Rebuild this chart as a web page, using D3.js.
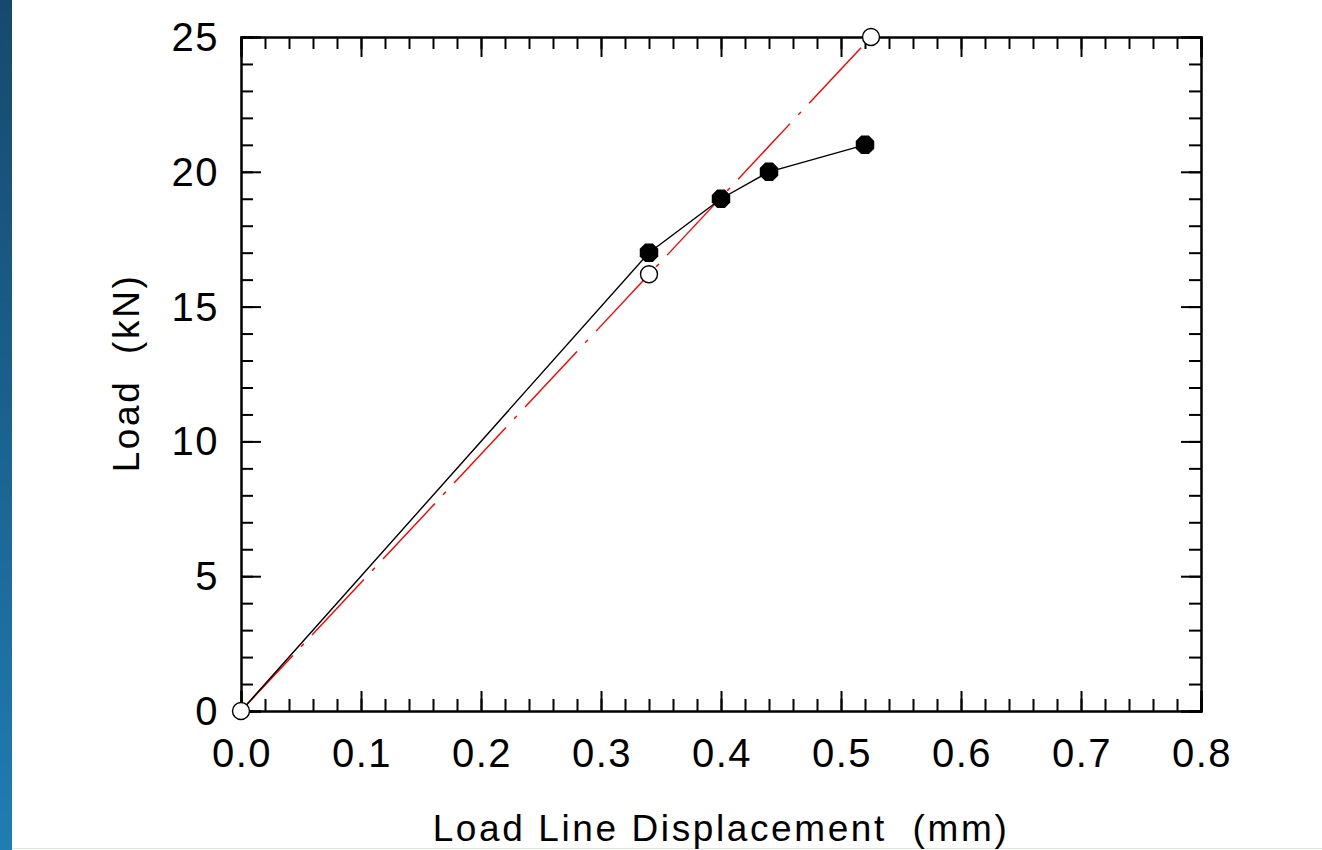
<!DOCTYPE html>
<html>
  <head>
    <meta charset="utf-8">
    <title>Load vs Load Line Displacement</title>
    <script src="https://cdn.jsdelivr.net/npm/d3@7"></script>
    <style>
    html, body {
        margin: 0;
        padding: 0;
        background: #fff;
    }
    svg text {
        font-family: 'Liberation Sans', Arial, sans-serif;
        fill: #000;
    }
    </style>
  </head>
  <body>
    <div id="vis"></div>
    <script>

      // measured points (filled markers)
      var dispFilled = [0.0, 0.34, 0.40, 0.44, 0.52];
      var loadFilled = [0, 17, 19, 20, 21];
      var showFilled = [false, true, true, true, true];

      // open markers
      var dispOpen = [0.0, 0.34, 0.525];
      var loadOpen = [0, 16.2, 25];

      // red dash-dot reference line (compliance line)
      var dispRef = [0.0, 0.525];
      var loadRef = [0, 25];

      var xTicks = [0, 0.1, 0.2, 0.3, 0.4, 0.5, 0.6, 0.7, 0.8];
      var yTicks = [0, 5, 10, 15, 20, 25];

      var width = 1322, height = 850;
      var margin = {left: 241, right: 121, top: 37, bottom: 139};

      var svg = d3.select('#vis').append('svg')
          .attr('width', width)
          .attr('height', height);

      // blue strip on the left edge
      var grad = svg.append('defs').append('linearGradient')
          .attr('id', 'strip').attr('x1', 0).attr('y1', 0).attr('x2', 0).attr('y2', 1);
      grad.append('stop').attr('offset', 0).attr('stop-color', '#164a6c');
      grad.append('stop').attr('offset', 0.45).attr('stop-color', '#1a5f8c');
      grad.append('stop').attr('offset', 1).attr('stop-color', '#1f7db4');
      svg.append('rect').attr('x', 0).attr('y', 0).attr('width', 12).attr('height', height)
          .attr('fill', 'url(#strip)');
      svg.append('line').attr('x1', 12).attr('x2', width).attr('y1', 848.5).attr('y2', 848.5)
          .attr('stroke', '#dfe8dc').attr('stroke-width', 1);

      var x = d3.scaleLinear().domain([0, 0.8]).range([margin.left, width - margin.right]);
      var y = d3.scaleLinear().domain([0, 25]).range([height - margin.bottom, margin.top]);

      var xMinor = d3.range(0, 0.8001, 0.02);
      var yMinor = d3.range(0, 25.001, 1);

      // frame: four axes with inward ticks, labels only on bottom & left
      function frame(axis, pos, tr, minor, major) {
        svg.append('g').attr('transform', tr)
            .call(axis(pos).tickValues(minor).tickSize(-12).tickFormat(''));
        svg.append('g').attr('transform', tr)
            .call(axis(pos).tickValues(major).tickSize(-20).tickFormat(''));
      }
      frame(d3.axisBottom, x, 'translate(0,' + y(0) + ')', xMinor, xTicks);
      frame(d3.axisTop, x, 'translate(0,' + y(25) + ')', xMinor, xTicks);
      frame(d3.axisLeft, y, 'translate(' + x(0) + ',0)', yMinor, yTicks);
      frame(d3.axisRight, y, 'translate(' + x(0.8) + ',0)', yMinor, yTicks);
      svg.selectAll('.domain, .tick line').attr('stroke', '#000').attr('stroke-width', 2);

      svg.selectAll('.xlab').data(xTicks).enter().append('text')
          .attr('x', function(d) { return x(d) + 1; })
          .attr('y', y(0) + 56)
          .attr('text-anchor', 'middle')
          .style('font-size', '40px')
          .style('letter-spacing', '1.5px')
          .text(function(d) { return d3.format('.1f')(d); });

      svg.selectAll('.ylab').data(yTicks).enter().append('text')
          .attr('x', x(0) - 22)
          .attr('y', function(d) { return y(d) + 14; })
          .attr('text-anchor', 'end')
          .style('font-size', '40px')
          .style('letter-spacing', '1.5px')
          .text(function(d) { return d; });

      svg.append('text')
          .attr('x', 721).attr('y', 841)
          .attr('text-anchor', 'middle')
          .style('font-size', '37px')
          .style('letter-spacing', '2.6px')
          .style('white-space', 'pre')
          .text('Load Line Displacement  (mm)');

      svg.append('text')
          .attr('transform', 'translate(139,373) rotate(-90)')
          .attr('text-anchor', 'middle')
          .style('font-size', '37px')
          .style('letter-spacing', '2.6px')
          .style('white-space', 'pre')
          .text('Load  (kN)');

      var line = d3.line()
          .x(function(d) { return x(d[0]); })
          .y(function(d) { return y(d[1]); });

      svg.append('path')
          .datum(d3.zip(dispRef, loadRef))
          .attr('d', line)
          .attr('fill', 'none')
          .attr('stroke', '#ff0000')
          .attr('stroke-width', 1.4)
          .attr('stroke-dasharray', '76,12,4,12');

      var filled = d3.zip(dispFilled, loadFilled, showFilled);
      svg.append('path')
          .datum(filled)
          .attr('d', line)
          .attr('fill', 'none')
          .attr('stroke', '#000')
          .attr('stroke-width', 1.4);

      var octagon = d3.symbol().type({
        draw: function(ctx, size) {
          var r = Math.sqrt(size / 2.83);
          for (var i = 0; i < 8; i++) {
            var a = Math.PI / 8 + i * Math.PI / 4;
            if (i === 0) ctx.moveTo(r * Math.cos(a), r * Math.sin(a));
            else ctx.lineTo(r * Math.cos(a), r * Math.sin(a));
          }
          ctx.closePath();
        }
      }).size(2.83 * 100);

      svg.selectAll('.filled').data(filled.filter(function(d) { return d[2]; }))
          .enter().append('path')
          .attr('transform', function(d) { return 'translate(' + x(d[0]) + ',' + y(d[1]) + ')'; })
          .attr('d', octagon)
          .attr('fill', '#000');

      svg.selectAll('.open').data(d3.zip(dispOpen, loadOpen))
          .enter().append('circle')
          .attr('cx', function(d) { return x(d[0]); })
          .attr('cy', function(d) { return y(d[1]); })
          .attr('r', 8.5)
          .attr('fill', '#fff')
          .attr('stroke', '#000')
          .attr('stroke-width', 1.4);

    </script>
  </body>
</html>
